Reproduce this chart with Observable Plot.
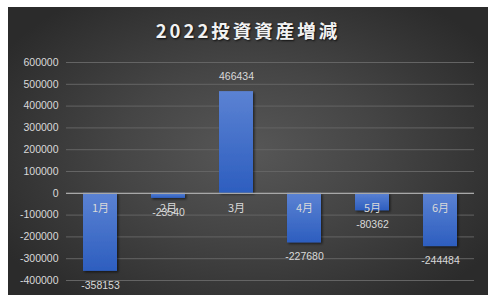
<!DOCTYPE html>
<html>
<head>
<meta charset="utf-8">
<script src="https://cdn.jsdelivr.net/npm/d3@7"></script>
<script src="https://cdn.jsdelivr.net/npm/@observablehq/plot@0.6"></script>
<style>
  html, body { margin: 0; padding: 0; background: #fff; }
  #wrap { position: relative; width: 495px; height: 302px; overflow: hidden; }
  #panel {
    position: absolute; left: 8px; top: 7px; width: 480px; height: 288px;
    background: radial-gradient(ellipse 60% 65% at 50% 50%, #575757 0%, #454545 45%, #2b2b2b 100%);
  }
  #title {
    position: absolute; left: 8px; top: 17px; width: 480px; text-align: center;
    font-family: "Noto Sans CJK JP", sans-serif; font-weight: 700; font-size: 18.5px;
    letter-spacing: 3px; color: #f2f2f2; line-height: 26px;
    text-shadow: 1px 1px 2px rgba(0,0,0,0.8);
  }
  #chart { position: absolute; left: 0; top: 0; }
</style>
</head>
<body>
<div id="wrap">
  <div id="panel"></div>
  <div id="title">2022投資資産増減</div>
  <div id="chart"></div>
</div>
<script>
// Monthly change in investment assets, 2022
const months = ["1月", "2月", "3月", "4月", "5月", "6月"];
const changes = [-358153, -23540, 466434, -227680, -80362, -244484];
const yTicks = [-400000, -300000, -200000, -100000, 0, 100000, 200000, 300000, 400000, 500000, 600000];

const rows = months.map((m, i) => ({month: m, value: changes[i]}));
const labelColor = "#d9d9d9";
const numFont = "Liberation Sans, Arial, sans-serif";

const chart = Plot.plot({
  width: 495,
  height: 302,
  marginTop: 62,
  marginBottom: 22,
  marginLeft: 66,
  marginRight: 21,
  style: {background: "transparent", fontFamily: numFont, fontSize: "10.5px", color: labelColor},
  x: {domain: months, paddingInner: 0.5, paddingOuter: 0.25, axis: null},
  y: {domain: [-400000, 600000], ticks: yTicks, label: null},
  marks: [
    Plot.gridY(yTicks, {stroke: "#646464", strokeOpacity: 1, strokeWidth: 1}),
    Plot.axisY(yTicks, {tickSize: 0, tickPadding: 8, tickFormat: d => String(d), fill: labelColor, label: null}),
    Plot.barY(rows, {x: "month", y: "value", fill: "url(#barGrad)"}),
    Plot.ruleY([0], {stroke: "#a8a8a8", strokeWidth: 1.2}),
    // month names sit just under the zero line
    Plot.text(rows, {x: "month", y: () => 0, text: "month", dy: 15, fill: labelColor,
      fontFamily: "Noto Sans CJK JP, sans-serif", fontSize: 11}),
    // value labels beyond each bar's end
    Plot.text(rows.filter(d => d.value < 0), {x: "month", y: "value", text: d => String(d.value), dy: 14, fill: labelColor, fontSize: 10.5}),
    Plot.text(rows.filter(d => d.value >= 0), {x: "month", y: "value", text: d => String(d.value), dy: -15, fill: labelColor, fontSize: 10.5})
  ]
});

const svg = d3.select(chart);
const defs = svg.insert("defs", ":first-child");
const grad = defs.append("linearGradient").attr("id", "barGrad").attr("x1", 0).attr("y1", 0).attr("x2", 0).attr("y2", 1);
grad.append("stop").attr("offset", "0%").attr("stop-color", "#5b82d3");
grad.append("stop").attr("offset", "100%").attr("stop-color", "#2d5ebf");
const shadow = defs.append("filter").attr("id", "barShadow").attr("x", "-20%").attr("y", "-20%").attr("width", "150%").attr("height", "150%");
shadow.append("feDropShadow").attr("dx", 1.5).attr("dy", 1.5).attr("stdDeviation", 1.2).attr("flood-color", "#000").attr("flood-opacity", 0.55);
svg.selectAll("g[aria-label='bar']").attr("filter", "url(#barShadow)");

document.getElementById("chart").appendChild(chart);
</script>
</body>
</html>
